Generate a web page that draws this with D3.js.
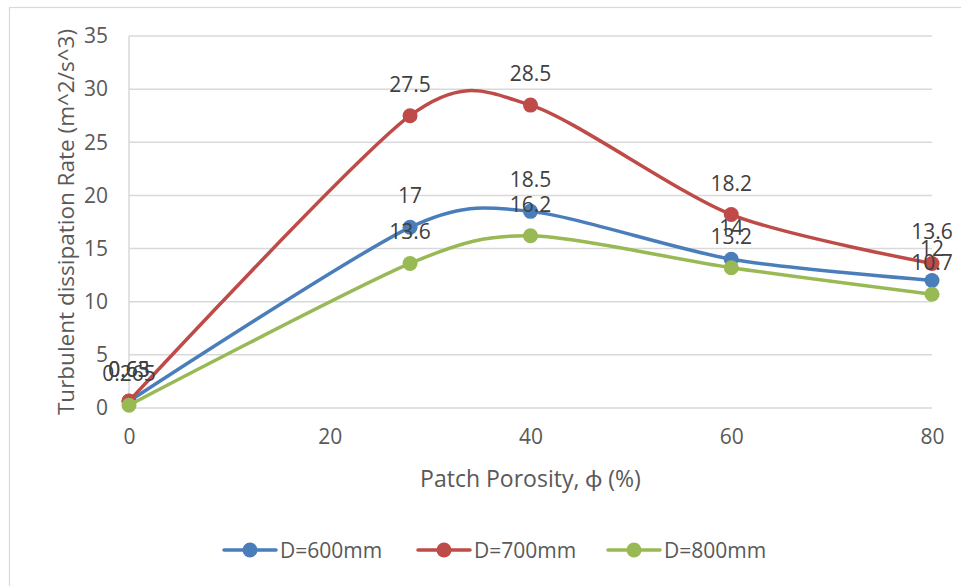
<!DOCTYPE html>
<html>
<head>
<meta charset="utf-8">
<script src="https://cdn.jsdelivr.net/npm/d3@7"></script>
<style>
  html, body { margin: 0; padding: 0; background: #fff; }
  svg { display: block; font-family: "Open Sans", Lato, sans-serif; }
</style>
</head>
<body>
<svg id="chart" width="961" height="586"></svg>
<script>
// Patch porosity (%) on the x axis
const porosity = [0, 28, 40, 60, 80];

// Turbulent dissipation rate for each patch diameter
const seriesNames = ["D=600mm", "D=700mm", "D=800mm"];
const d600 = [0.63, 17, 18.5, 14, 12];
const d700 = [0.65, 27.5, 28.5, 18.2, 13.6];
const d800 = [0.265, 13.6, 16.2, 13.2, 10.7];

const xTicks = [0, 20, 40, 60, 80];
const yTicks = [0, 5, 10, 15, 20, 25, 30, 35];

const colors = ["#4A7EBB", "#BE4B48", "#98B954"];
const seriesValues = [d600, d700, d800];

const FONT = "'Open Sans', Lato, sans-serif";
const svg = d3.select("#chart");

// outer chart frame
svg.append("rect")
  .attr("x", 9.5).attr("y", 7.5)
  .attr("width", 960).attr("height", 600)
  .attr("fill", "none").attr("stroke", "#d9d9d9").attr("stroke-width", 1.2);

const x = d3.scaleLinear().domain([0, 80]).range([129, 932]);
const y = d3.scaleLinear().domain([0, 35]).range([408, 36]);

// horizontal gridlines
svg.append("g")
  .selectAll("line")
  .data(yTicks)
  .join("line")
  .attr("x1", x(0)).attr("x2", x(80))
  .attr("y1", d => y(d)).attr("y2", d => y(d))
  .attr("stroke", "#d9d9d9").attr("stroke-width", 1.5);

// vertical axis line
svg.append("line")
  .attr("x1", x(0)).attr("x2", x(0))
  .attr("y1", y(35)).attr("y2", y(0))
  .attr("stroke", "#d9d9d9").attr("stroke-width", 1.5);

// y tick labels
const yAxis = d3.axisLeft(y).tickValues(yTicks).tickSize(0).tickPadding(21);
const gy = svg.append("g").attr("transform", `translate(${x(0)},0)`).call(yAxis);
gy.select(".domain").remove();
gy.selectAll("text")
  .attr("fill", "#595959").style("font-size", "21px")
  .style("font-family", FONT);

// x tick labels
const xAxis = d3.axisBottom(x).tickValues(xTicks).tickSize(0).tickPadding(21);
const gx = svg.append("g").attr("transform", `translate(0,${y(0)})`).call(xAxis);
gx.select(".domain").remove();
gx.selectAll("text")
  .attr("fill", "#595959").style("font-size", "21px")
  .style("font-family", FONT);

// axis titles
svg.append("text")
  .attr("x", (x(0) + x(80)) / 2).attr("y", 487)
  .attr("text-anchor", "middle")
  .attr("fill", "#595959").style("font-size", "23px")
  .text("Patch Porosity, ϕ (%)");

svg.append("text")
  .attr("transform", `translate(74,${(y(0) + y(35)) / 2}) rotate(-90)`)
  .attr("text-anchor", "middle")
  .attr("fill", "#595959").style("font-size", "22.5px")
  .text("Turbulent dissipation Rate (m^2/s^3)");

// smoothed series lines
const line = d3.line()
  .x((d, i) => x(porosity[i]))
  .y(d => y(d))
  .curve(d3.curveCardinal.tension(0.2));

const series = svg.append("g")
  .selectAll("g")
  .data(seriesValues)
  .join("g");

series.append("path")
  .attr("d", d => line(d))
  .attr("fill", "none")
  .attr("stroke", (d, i) => colors[i])
  .attr("stroke-width", 3.5)
  .attr("stroke-linecap", "round");

series.each(function (vals, si) {
  d3.select(this).selectAll("circle")
    .data(vals)
    .join("circle")
    .attr("cx", (d, i) => x(porosity[i]))
    .attr("cy", d => y(d))
    .attr("r", 7.5)
    .attr("fill", colors[si]);
});

// value labels above each point
series.each(function (vals) {
  d3.select(this).selectAll("text")
    .data(vals)
    .join("text")
    .attr("x", (d, i) => x(porosity[i]))
    .attr("y", d => y(d) - 24)
    .attr("text-anchor", "middle")
    .attr("fill", "#404040")
    .style("font-size", "21px")
    .text(d => d);
});

// legend
const legendX = [224, 418, 608];
const legend = svg.append("g")
  .selectAll("g")
  .data(seriesNames)
  .join("g")
  .attr("transform", (d, i) => `translate(${legendX[i]},550)`);

legend.append("line")
  .attr("x1", 0).attr("x2", 52)
  .attr("stroke", (d, i) => colors[i]).attr("stroke-width", 3.5)
  .attr("stroke-linecap", "round");
legend.append("circle")
  .attr("cx", 26).attr("r", 7.5)
  .attr("fill", (d, i) => colors[i]);
legend.append("text")
  .attr("x", 56).attr("y", 7.5)
  .attr("fill", "#595959").style("font-size", "21px")
  .text(d => d);
</script>
</body>
</html>
